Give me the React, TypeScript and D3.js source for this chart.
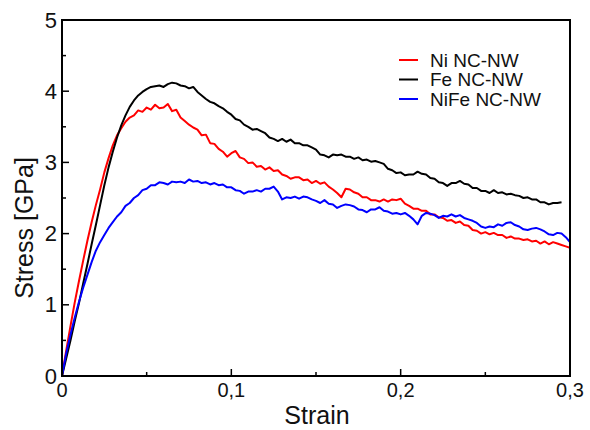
import React from "react";
import * as d3 from "d3";

// Shared strain sampling grid (step 0.0025)
const STRAIN = [
  0, 0.0025, 0.005, 0.0075, 0.01, 0.0125, 0.015, 0.0175, 0.02, 0.0225,
  0.025, 0.0275, 0.03, 0.0325, 0.035, 0.0375, 0.04, 0.0425, 0.045, 0.0475,
  0.05, 0.0525, 0.055, 0.0575, 0.06, 0.0625, 0.065, 0.0675, 0.07, 0.0725,
  0.075, 0.0775, 0.08, 0.0825, 0.085, 0.0875, 0.09, 0.0925, 0.095, 0.0975,
  0.1, 0.1025, 0.105, 0.1075, 0.11, 0.1125, 0.115, 0.1175, 0.12, 0.1225,
  0.125, 0.1275, 0.13, 0.1325, 0.135, 0.1375, 0.14, 0.1425, 0.145, 0.1475,
  0.15, 0.1525, 0.155, 0.1575, 0.16, 0.1625, 0.165, 0.1675, 0.17, 0.1725,
  0.175, 0.1775, 0.18, 0.1825, 0.185, 0.1875, 0.19, 0.1925, 0.195, 0.1975,
  0.2, 0.2025, 0.205, 0.2075, 0.21, 0.2125, 0.215, 0.2175, 0.22, 0.2225,
  0.225, 0.2275, 0.23, 0.2325, 0.235, 0.2375, 0.24, 0.2425, 0.245, 0.2475,
  0.25, 0.2525, 0.255, 0.2575, 0.26, 0.2625, 0.265, 0.2675, 0.27, 0.2725,
  0.275, 0.2775, 0.28, 0.2825, 0.285, 0.2875, 0.29, 0.2925, 0.295, 0.2975,
  0.3,
];

// Stress [GPa] for each nanowire
const NI_STRESS = [
  0, 0.36, 0.70, 1.03, 1.33, 1.62, 1.90, 2.16, 2.40, 2.62,
  2.86, 3.06, 3.24, 3.38, 3.48, 3.57, 3.63, 3.66, 3.73, 3.71,
  3.77, 3.74, 3.81, 3.76, 3.77, 3.82, 3.72, 3.74, 3.63, 3.58,
  3.53, 3.49, 3.46, 3.38, 3.39, 3.27, 3.26, 3.19, 3.15, 3.08,
  3.13, 3.16, 3.07, 3.05, 2.99, 3.00, 2.94, 2.95, 2.90, 2.93,
  2.88, 2.89, 2.83, 2.81, 2.77, 2.79, 2.79, 2.75, 2.76, 2.71,
  2.74, 2.70, 2.72, 2.66, 2.62, 2.57, 2.51, 2.63, 2.62, 2.58,
  2.56, 2.51, 2.51, 2.47, 2.47, 2.45, 2.48, 2.45, 2.48, 2.47,
  2.49, 2.42, 2.39, 2.35, 2.35, 2.32, 2.32, 2.27, 2.27, 2.23,
  2.22, 2.18, 2.19, 2.15, 2.17, 2.12, 2.11, 2.05, 2.04, 2.00,
  2.02, 1.99, 2.01, 1.98, 1.98, 1.94, 1.96, 1.93, 1.93, 1.91,
  1.92, 1.89, 1.90, 1.86, 1.89, 1.85, 1.88, 1.86, 1.84, 1.82,
  1.80,
];

const FE_STRESS = [
  0, 0.25, 0.5, 0.77, 1.02, 1.3, 1.57, 1.85, 2.12, 2.4,
  2.68, 2.93, 3.15, 3.35, 3.52, 3.66, 3.78, 3.87, 3.94, 3.99,
  4.03, 4.06, 4.07, 4.08, 4.06, 4.10, 4.12, 4.11, 4.08, 4.07,
  4.04, 4.06, 3.99, 3.94, 3.89, 3.85, 3.83, 3.79, 3.76, 3.71,
  3.67, 3.61, 3.59, 3.53, 3.50, 3.46, 3.47, 3.44, 3.41, 3.35,
  3.33, 3.30, 3.33, 3.29, 3.32, 3.27, 3.27, 3.24, 3.24, 3.21,
  3.18, 3.11, 3.10, 3.07, 3.11, 3.10, 3.11, 3.08, 3.08, 3.05,
  3.07, 3.03, 3.04, 3.01, 3.02, 3.00, 2.98, 2.91, 2.89, 2.85,
  2.86, 2.82, 2.83, 2.83, 2.87, 2.84, 2.83, 2.78, 2.77, 2.72,
  2.71, 2.67, 2.71, 2.71, 2.74, 2.70, 2.69, 2.64, 2.64, 2.60,
  2.60, 2.57, 2.61, 2.57, 2.58, 2.55, 2.56, 2.54, 2.53, 2.50,
  2.51, 2.48, 2.48, 2.44, 2.44, 2.41, 2.43, 2.43, 2.44,
];

const NIFE_STRESS = [
  0, 0.32, 0.58, 0.82, 1.04, 1.24, 1.42, 1.60, 1.76, 1.88,
  1.98, 2.08, 2.16, 2.24, 2.30, 2.39, 2.43, 2.50, 2.54, 2.61,
  2.63, 2.68, 2.68, 2.72, 2.71, 2.69, 2.73, 2.72, 2.73, 2.71,
  2.76, 2.73, 2.74, 2.71, 2.72, 2.69, 2.71, 2.68, 2.69, 2.65,
  2.65, 2.61, 2.60, 2.56, 2.59, 2.59, 2.61, 2.59, 2.63, 2.63,
  2.66, 2.59, 2.48, 2.51, 2.50, 2.52, 2.49, 2.52, 2.51, 2.48,
  2.46, 2.43, 2.47, 2.42, 2.41, 2.36, 2.39, 2.41, 2.40, 2.38,
  2.34, 2.33, 2.30, 2.34, 2.34, 2.37, 2.32, 2.31, 2.28, 2.29,
  2.27, 2.29, 2.25, 2.20, 2.13, 2.25, 2.29, 2.28, 2.26, 2.22,
  2.25, 2.24, 2.27, 2.24, 2.26, 2.22, 2.20, 2.18, 2.15, 2.10,
  2.08, 2.10, 2.09, 2.13, 2.11, 2.15, 2.16, 2.12, 2.10, 2.06,
  2.05, 2.07, 2.08, 2.06, 2.03, 1.99, 1.98, 2.01, 2.00, 1.95,
  1.88,
];

const SERIES_NAMES = ["Ni NC-NW", "Fe NC-NW", "NiFe NC-NW"];
const SERIES_COLORS = ["#ff0000", "#000000", "#0000ff"];
const SERIES_VALUES = [NI_STRESS, FE_STRESS, NIFE_STRESS];

const X_TICKS = [0, 0.1, 0.2, 0.3];
const X_TICK_LABELS = ["0", "0,1", "0,2", "0,3"];
const X_MINOR = [0.05, 0.15, 0.25];
const Y_TICKS = [0, 1, 2, 3, 4, 5];
const Y_MINOR = [0.5, 1.5, 2.5, 3.5, 4.5];

const W = 590;
const H = 430;
const FONT = "'Liberation Sans', Arial, Helvetica, sans-serif";

export default function App() {
  const left = 62, right = 570, top = 20, bottom = 376;
  const x = d3.scaleLinear().domain([0, 0.3]).range([left, right]);
  const y = d3.scaleLinear().domain([0, 5]).range([bottom, top]);

  const line = d3
    .line<[number, number]>()
    .x((d) => x(d[0]))
    .y((d) => y(d[1]));

  return (
    <svg
      width={W}
      height={H}
      style={{ position: "absolute", left: 0, top: 0, background: "#fff" }}
      fontFamily={FONT}
    >
      <defs>
        <clipPath id="plot-area">
          <rect x={left} y={top} width={right - left} height={bottom - top} />
        </clipPath>
      </defs>

      {/* stress-strain curves */}
      <g clipPath="url(#plot-area)">
        {SERIES_VALUES.map((vals, si) => (
          <path
            key={si}
            d={line(vals.map((v, i) => [STRAIN[i], v] as [number, number])) || ""}
            fill="none"
            stroke={SERIES_COLORS[si]}
            strokeWidth={2}
            strokeLinejoin="round"
          />
        ))}
      </g>

      {/* frame */}
      <rect
        x={left}
        y={top}
        width={right - left}
        height={bottom - top}
        fill="none"
        stroke="#000"
        strokeWidth={2}
      />

      {/* y ticks */}
      {Y_TICKS.map((t) => (
        <g key={"yt" + t}>
          <line x1={left} x2={left + 7} y1={y(t)} y2={y(t)} stroke="#000" strokeWidth={1.5} />
          <text
            x={57}
            y={y(t)}
            textAnchor="end"
            dominantBaseline="central"
            fontSize={22}
            fill="#111"
          >
            {t}
          </text>
        </g>
      ))}
      {Y_MINOR.map((t) => (
        <line key={"ym" + t} x1={left} x2={left + 4} y1={y(t)} y2={y(t)} stroke="#000" strokeWidth={1.5} />
      ))}

      {/* x ticks */}
      {X_TICKS.map((t, i) => (
        <g key={"xt" + t}>
          <line x1={x(t)} x2={x(t)} y1={bottom} y2={bottom - 7} stroke="#000" strokeWidth={1.5} />
          <text x={x(t)} y={397} textAnchor="middle" fontSize={20} fill="#111">
            {X_TICK_LABELS[i]}
          </text>
        </g>
      ))}
      {X_MINOR.map((t) => (
        <line key={"xm" + t} x1={x(t)} x2={x(t)} y1={bottom} y2={bottom - 4} stroke="#000" strokeWidth={1.5} />
      ))}

      {/* axis titles */}
      <text x={317} y={424} textAnchor="middle" fontSize={25} fill="#111">
        Strain
      </text>
      <text
        transform="translate(33, 228) rotate(-90)"
        textAnchor="middle"
        fontSize={25}
        fill="#111"
      >
        Stress [GPa]
      </text>

      {/* legend */}
      {SERIES_NAMES.map((name, i) => {
        const ly = 60 + i * 19.5;
        return (
          <g key={name}>
            <line x1={399} x2={418} y1={ly} y2={ly} stroke={SERIES_COLORS[i]} strokeWidth={2} />
            <text x={430} y={ly} dominantBaseline="central" fontSize={19} fill="#111">
              {name}
            </text>
          </g>
        );
      })}
    </svg>
  );
}
